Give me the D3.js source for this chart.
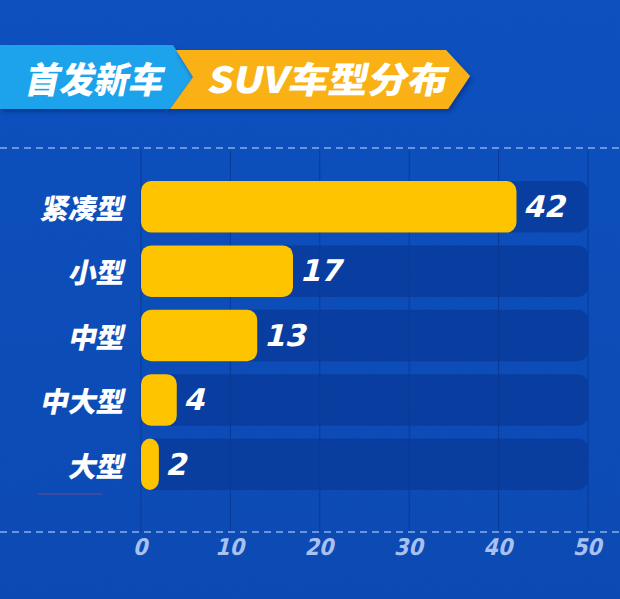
<!DOCTYPE html>
<html><head><meta charset="utf-8">
<script src="https://cdn.jsdelivr.net/npm/d3@7"></script>
<style>html,body{margin:0;padding:0;background:#0b4cba;}svg{display:block;}</style>
</head><body>
<script>
const categories = ["紧凑型","小型","中型","中大型","大型"];
const values = [42,17,13,4,2];
const ticks = [0,10,20,30,40,50];
const titleLeft = "首发新车";
const titleRight = "SUV车型分布";

const W=620,H=599;
const svg=d3.select("body").append("svg").attr("width",W).attr("height",H);
const defs=svg.append("defs");
const bg=defs.append("linearGradient").attr("id","bg").attr("x1",0).attr("y1",0).attr("x2",0).attr("y2",1);
bg.append("stop").attr("offset","0").attr("stop-color","#0b4ebd");
bg.append("stop").attr("offset","1").attr("stop-color","#0a48b2");
const f=defs.append("filter").attr("id","noise").attr("x",0).attr("y",0).attr("width","100%").attr("height","100%");
f.append("feTurbulence").attr("type","fractalNoise").attr("baseFrequency","0.9").attr("numOctaves",2).attr("result","n");
f.append("feColorMatrix").attr("type","matrix").attr("values","0 0 0 0 0.2  0 0 0 0 0.4  0 0 0 0 0.9  0 0 0 0.04 0");
svg.append("rect").attr("width",W).attr("height",H).attr("fill","url(#bg)");
svg.append("rect").attr("width",W).attr("height",H).attr("filter","url(#noise)");

// title banners
const sh=defs.append("filter").attr("id","sh").attr("x","-10%").attr("y","-10%").attr("width","130%").attr("height","140%");
sh.append("feDropShadow").attr("dx",2).attr("dy",3).attr("stdDeviation",2).attr("flood-color","#062f7a").attr("flood-opacity",0.6);
svg.append("polygon").attr("points","0,45 173,45 193,77 170,109 0,109").attr("fill","#1ba3eb").attr("filter","url(#sh)");
svg.append("polygon").attr("points","176,50 446,50 470,76 448,109 170,109 193,77").attr("fill","#f9b117").attr("filter","url(#sh)");
svg.append("text").attr("transform","translate(24,93) skewX(-12)")
  .attr("textLength",138).attr("lengthAdjust","spacingAndGlyphs")
  .attr("font-family","'Noto Sans CJK SC'").attr("font-weight",900).attr("font-size",36).attr("fill","#fff").text(titleLeft);
svg.append("text").attr("transform","translate(206,93) skewX(-12)")
  .attr("textLength",240).attr("lengthAdjust","spacingAndGlyphs")
  .attr("font-family","'Noto Sans CJK SC'").attr("font-weight",900).attr("font-size",36).attr("fill","#fff").text(titleRight);

const x=d3.scaleLinear().domain([0,50]).range([141,588]);
const y=d3.scaleBand().domain(categories).range([181,490]).paddingInner(0.2).paddingOuter(0);

// dashed rules
[148,532].forEach(yy=>svg.append("line").attr("x1",0).attr("x2",W).attr("y1",yy).attr("y2",yy)
  .attr("stroke","#86aee8").attr("stroke-width",1.5).attr("stroke-dasharray","7,5"));

// grid
svg.append("g").selectAll("line").data(ticks).join("line")
  .attr("x1",d=>x(d)).attr("x2",d=>x(d)).attr("y1",150).attr("y2",531)
  .attr("stroke","#083a96").attr("stroke-width",1);

// tracks
svg.append("g").selectAll("rect").data(categories).join("rect")
  .attr("x",x(0)).attr("y",d=>y(d)).attr("width",x(50)-x(0)).attr("height",y.bandwidth())
  .attr("rx",10).attr("fill","#083a98").attr("opacity",0.75);

// bars
svg.append("g").selectAll("rect").data(values).join("rect")
  .attr("x",x(0)).attr("y",(d,i)=>y(categories[i]))
  .attr("width",d=>x(d)-x(0)).attr("height",y.bandwidth())
  .attr("rx",d=>Math.min(10,(x(d)-x(0))/2)).attr("ry",10)
  .attr("fill","#ffc400");

// category labels
svg.append("g").selectAll("text").data(categories).join("text")
  .attr("transform",d=>`translate(126,${y(d)+y.bandwidth()/2}) skewX(-12)`)
  .attr("text-anchor","end").attr("dominant-baseline","central")
  .attr("font-family","'Noto Sans CJK SC'").attr("font-weight",900).attr("font-size",28)
  .attr("fill","#fff").text(d=>d);

// value labels
svg.append("g").selectAll("text").data(values).join("text")
  .attr("transform",(d,i)=>`translate(${x(d)+9},${y(categories[i])+y.bandwidth()/2}) skewX(-14)`)
  .attr("dominant-baseline","central")
  .attr("font-family","'DejaVu Sans'").attr("font-weight","bold").attr("font-size",30)
  .attr("fill","#fff").text(d=>d);

// x axis labels
svg.append("g").selectAll("text").data(ticks).join("text")
  .attr("transform",d=>`translate(${x(d)+1},547) skewX(-14)`)
  .attr("text-anchor","middle").attr("dominant-baseline","central")
  .attr("font-family","'DejaVu Sans Condensed','DejaVu Sans'").attr("font-weight","bold").attr("font-size",23)
  .attr("fill","#a8c1f0").text(d=>d);

// small decorative line
svg.append("line").attr("x1",38).attr("x2",102).attr("y1",494).attr("y2",494)
  .attr("stroke","#b04a6e").attr("stroke-width",1).attr("opacity",0.6);
</script>
</body></html>
